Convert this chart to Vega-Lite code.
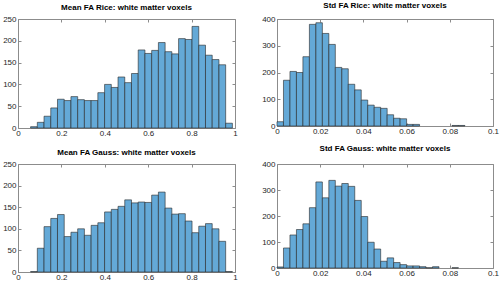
{
  "$schema": "https://vega.github.io/schema/vega-lite/v6.json",
  "padding": {"left": 2, "top": 1, "right": 0, "bottom": 0},
  "background": "white",
  "datasets": {
    "mr": [
      {"x0": 0.058, "x1": 0.089, "n": 3}, {"x0": 0.089, "x1": 0.12, "n": 13}, {"x0": 0.12, "x1": 0.151, "n": 27},
      {"x0": 0.151, "x1": 0.182, "n": 46}, {"x0": 0.182, "x1": 0.213, "n": 66}, {"x0": 0.213, "x1": 0.244, "n": 63},
      {"x0": 0.244, "x1": 0.275, "n": 72}, {"x0": 0.275, "x1": 0.306, "n": 65}, {"x0": 0.306, "x1": 0.337, "n": 63},
      {"x0": 0.337, "x1": 0.368, "n": 63}, {"x0": 0.368, "x1": 0.399, "n": 81}, {"x0": 0.399, "x1": 0.43, "n": 100},
      {"x0": 0.43, "x1": 0.461, "n": 93}, {"x0": 0.461, "x1": 0.492, "n": 117}, {"x0": 0.492, "x1": 0.523, "n": 104},
      {"x0": 0.523, "x1": 0.554, "n": 125}, {"x0": 0.554, "x1": 0.585, "n": 179}, {"x0": 0.585, "x1": 0.616, "n": 171},
      {"x0": 0.616, "x1": 0.647, "n": 178}, {"x0": 0.647, "x1": 0.678, "n": 196}, {"x0": 0.678, "x1": 0.709, "n": 175},
      {"x0": 0.709, "x1": 0.74, "n": 170}, {"x0": 0.74, "x1": 0.771, "n": 205}, {"x0": 0.771, "x1": 0.802, "n": 203},
      {"x0": 0.802, "x1": 0.833, "n": 233}, {"x0": 0.833, "x1": 0.864, "n": 190}, {"x0": 0.864, "x1": 0.895, "n": 167},
      {"x0": 0.895, "x1": 0.926, "n": 157}, {"x0": 0.926, "x1": 0.957, "n": 145}, {"x0": 0.957, "x1": 0.988, "n": 11}
    ],
    "mg": [
      {"x0": 0.058, "x1": 0.089, "n": 1}, {"x0": 0.089, "x1": 0.12, "n": 55}, {"x0": 0.12, "x1": 0.151, "n": 105},
      {"x0": 0.151, "x1": 0.182, "n": 124}, {"x0": 0.182, "x1": 0.213, "n": 133}, {"x0": 0.213, "x1": 0.244, "n": 82},
      {"x0": 0.244, "x1": 0.275, "n": 92}, {"x0": 0.275, "x1": 0.306, "n": 100}, {"x0": 0.306, "x1": 0.337, "n": 85},
      {"x0": 0.337, "x1": 0.368, "n": 108}, {"x0": 0.368, "x1": 0.399, "n": 114}, {"x0": 0.399, "x1": 0.43, "n": 139},
      {"x0": 0.43, "x1": 0.461, "n": 145}, {"x0": 0.461, "x1": 0.492, "n": 152}, {"x0": 0.492, "x1": 0.523, "n": 167},
      {"x0": 0.523, "x1": 0.554, "n": 160}, {"x0": 0.554, "x1": 0.585, "n": 162}, {"x0": 0.585, "x1": 0.616, "n": 161},
      {"x0": 0.616, "x1": 0.647, "n": 178}, {"x0": 0.647, "x1": 0.678, "n": 185}, {"x0": 0.678, "x1": 0.709, "n": 148},
      {"x0": 0.709, "x1": 0.74, "n": 134}, {"x0": 0.74, "x1": 0.771, "n": 135}, {"x0": 0.771, "x1": 0.802, "n": 118},
      {"x0": 0.802, "x1": 0.833, "n": 91}, {"x0": 0.833, "x1": 0.864, "n": 106}, {"x0": 0.864, "x1": 0.895, "n": 112},
      {"x0": 0.895, "x1": 0.926, "n": 100}, {"x0": 0.926, "x1": 0.957, "n": 71}, {"x0": 0.957, "x1": 0.988, "n": 1}
    ],
    "sr": [
      {"x0": 0.0, "x1": 0.003, "n": 16}, {"x0": 0.003, "x1": 0.006, "n": 171}, {"x0": 0.006, "x1": 0.009, "n": 204},
      {"x0": 0.009, "x1": 0.012, "n": 200}, {"x0": 0.012, "x1": 0.015, "n": 259}, {"x0": 0.015, "x1": 0.018, "n": 380},
      {"x0": 0.018, "x1": 0.021, "n": 386}, {"x0": 0.021, "x1": 0.024, "n": 346}, {"x0": 0.024, "x1": 0.027, "n": 305},
      {"x0": 0.027, "x1": 0.030, "n": 219}, {"x0": 0.030, "x1": 0.033, "n": 214}, {"x0": 0.033, "x1": 0.036, "n": 156},
      {"x0": 0.036, "x1": 0.039, "n": 135}, {"x0": 0.039, "x1": 0.042, "n": 97}, {"x0": 0.042, "x1": 0.045, "n": 78},
      {"x0": 0.045, "x1": 0.048, "n": 70}, {"x0": 0.048, "x1": 0.051, "n": 66}, {"x0": 0.051, "x1": 0.054, "n": 42},
      {"x0": 0.054, "x1": 0.057, "n": 29}, {"x0": 0.057, "x1": 0.060, "n": 27}, {"x0": 0.060, "x1": 0.063, "n": 6},
      {"x0": 0.063, "x1": 0.066, "n": 6}, {"x0": 0.081, "x1": 0.084, "n": 2}, {"x0": 0.084, "x1": 0.087, "n": 2}
    ],
    "sg": [
      {"x0": 0.0, "x1": 0.003, "n": 4}, {"x0": 0.003, "x1": 0.006, "n": 77}, {"x0": 0.006, "x1": 0.009, "n": 127},
      {"x0": 0.009, "x1": 0.012, "n": 148}, {"x0": 0.012, "x1": 0.015, "n": 170}, {"x0": 0.015, "x1": 0.018, "n": 232},
      {"x0": 0.018, "x1": 0.021, "n": 331}, {"x0": 0.021, "x1": 0.024, "n": 270}, {"x0": 0.024, "x1": 0.027, "n": 337},
      {"x0": 0.027, "x1": 0.030, "n": 315}, {"x0": 0.030, "x1": 0.033, "n": 325}, {"x0": 0.033, "x1": 0.036, "n": 314},
      {"x0": 0.036, "x1": 0.039, "n": 260}, {"x0": 0.039, "x1": 0.042, "n": 198}, {"x0": 0.042, "x1": 0.045, "n": 99},
      {"x0": 0.045, "x1": 0.048, "n": 73}, {"x0": 0.048, "x1": 0.051, "n": 26}, {"x0": 0.051, "x1": 0.054, "n": 39},
      {"x0": 0.054, "x1": 0.057, "n": 21}, {"x0": 0.057, "x1": 0.060, "n": 13}, {"x0": 0.060, "x1": 0.063, "n": 8},
      {"x0": 0.063, "x1": 0.066, "n": 8}, {"x0": 0.066, "x1": 0.069, "n": 5}, {"x0": 0.069, "x1": 0.072, "n": 1},
      {"x0": 0.072, "x1": 0.075, "n": 5}, {"x0": 0.081, "x1": 0.084, "n": 1}
    ]
  },
  "spacing": 6,
  "vconcat": [
    {
      "spacing": 23,
      "hconcat": [
        {
          "width": 217, "height": 109,
          "title": {"text": "Mean FA Rice: white matter voxels", "offset": 3},
          "data": {"name": "mr"},
          "layer": [
            {"mark": {"type": "rect", "fill": "#64a9d7", "stroke": "#262626", "strokeWidth": 0.6},
             "encoding": {
               "x": {"field": "x0", "type": "quantitative", "scale": {"domain": [0, 1], "nice": false}, "axis": {"title": null, "values": [0, 0.2, 0.4, 0.6, 0.8, 1], "format": ".2~f"}},
               "x2": {"field": "x1"},
               "y": {"field": "n", "type": "quantitative", "scale": {"domain": [0, 250], "nice": false}, "axis": {"title": null, "values": [0, 50, 100, 150, 200, 250]}},
               "y2": {"datum": 0}}},
            {"mark": {"type": "rect", "opacity": 0},
             "encoding": {
               "x": {"field": "x0", "type": "quantitative", "axis": {"title": null, "orient": "top", "labels": false, "values": [0, 0.2, 0.4, 0.6, 0.8, 1]}},
               "x2": {"field": "x1"},
               "y": {"field": "n", "type": "quantitative", "axis": {"title": null, "orient": "right", "labels": false, "values": [0, 50, 100, 150, 200, 250]}},
               "y2": {"datum": 0}}}
          ],
          "resolve": {"axis": {"x": "independent", "y": "independent"}}
        },
        {
          "width": 216, "height": 107,
          "title": {"text": "Std FA Rice: white matter voxels", "offset": 5},
          "data": {"name": "sr"},
          "layer": [
            {"mark": {"type": "rect", "fill": "#64a9d7", "stroke": "#262626", "strokeWidth": 0.6},
             "encoding": {
               "x": {"field": "x0", "type": "quantitative", "scale": {"domain": [0, 0.1], "nice": false}, "axis": {"title": null, "values": [0, 0.02, 0.04, 0.06, 0.08, 0.1], "format": ".2~f"}},
               "x2": {"field": "x1"},
               "y": {"field": "n", "type": "quantitative", "scale": {"domain": [0, 400], "nice": false}, "axis": {"title": null, "values": [0, 100, 200, 300, 400]}},
               "y2": {"datum": 0}}},
            {"mark": {"type": "rect", "opacity": 0},
             "encoding": {
               "x": {"field": "x0", "type": "quantitative", "axis": {"title": null, "orient": "top", "labels": false, "values": [0, 0.02, 0.04, 0.06, 0.08, 0.1]}},
               "x2": {"field": "x1"},
               "y": {"field": "n", "type": "quantitative", "axis": {"title": null, "orient": "right", "labels": false, "values": [0, 100, 200, 300, 400]}},
               "y2": {"datum": 0}}}
          ],
          "resolve": {"axis": {"x": "independent", "y": "independent"}}
        }
      ]
    },
    {
      "spacing": 23,
      "hconcat": [
        {
          "width": 217, "height": 108,
          "title": {"text": "Mean FA Gauss: white matter voxels", "offset": 3},
          "data": {"name": "mg"},
          "layer": [
            {"mark": {"type": "rect", "fill": "#64a9d7", "stroke": "#262626", "strokeWidth": 0.6},
             "encoding": {
               "x": {"field": "x0", "type": "quantitative", "scale": {"domain": [0, 1], "nice": false}, "axis": {"title": null, "values": [0, 0.2, 0.4, 0.6, 0.8, 1], "format": ".2~f"}},
               "x2": {"field": "x1"},
               "y": {"field": "n", "type": "quantitative", "scale": {"domain": [0, 250], "nice": false}, "axis": {"title": null, "values": [0, 50, 100, 150, 200, 250]}},
               "y2": {"datum": 0}}},
            {"mark": {"type": "rect", "opacity": 0},
             "encoding": {
               "x": {"field": "x0", "type": "quantitative", "axis": {"title": null, "orient": "top", "labels": false, "values": [0, 0.2, 0.4, 0.6, 0.8, 1]}},
               "x2": {"field": "x1"},
               "y": {"field": "n", "type": "quantitative", "axis": {"title": null, "orient": "right", "labels": false, "values": [0, 50, 100, 150, 200, 250]}},
               "y2": {"datum": 0}}}
          ],
          "resolve": {"axis": {"x": "independent", "y": "independent"}}
        },
        {
          "width": 216, "height": 104,
          "title": {"text": "Std FA Gauss: white matter voxels", "offset": 7},
          "data": {"name": "sg"},
          "layer": [
            {"mark": {"type": "rect", "fill": "#64a9d7", "stroke": "#262626", "strokeWidth": 0.6},
             "encoding": {
               "x": {"field": "x0", "type": "quantitative", "scale": {"domain": [0, 0.1], "nice": false}, "axis": {"title": null, "values": [0, 0.02, 0.04, 0.06, 0.08, 0.1], "format": ".2~f"}},
               "x2": {"field": "x1"},
               "y": {"field": "n", "type": "quantitative", "scale": {"domain": [0, 400], "nice": false}, "axis": {"title": null, "values": [0, 100, 200, 300, 400]}},
               "y2": {"datum": 0}}},
            {"mark": {"type": "rect", "opacity": 0},
             "encoding": {
               "x": {"field": "x0", "type": "quantitative", "axis": {"title": null, "orient": "top", "labels": false, "values": [0, 0.02, 0.04, 0.06, 0.08, 0.1]}},
               "x2": {"field": "x1"},
               "y": {"field": "n", "type": "quantitative", "axis": {"title": null, "orient": "right", "labels": false, "values": [0, 100, 200, 300, 400]}},
               "y2": {"datum": 0}}}
          ],
          "resolve": {"axis": {"x": "independent", "y": "independent"}}
        }
      ]
    }
  ],
  "config": {
    "view": {"stroke": "#8c8c8c", "strokeWidth": 1},
    "axis": {"labelFont": "Liberation Sans", "labelFontSize": 8, "labelColor": "#262626", "domain": false, "grid": false, "ticks": true, "tickSize": -3, "tickColor": "#8c8c8c", "labelFlush": false, "labelOverlap": false},
    "axisX": {"labelPadding": 4},
    "axisY": {"labelPadding": 5},
    "title": {"font": "Liberation Sans", "fontSize": 8, "fontWeight": "bold", "color": "#000000", "anchor": "middle"}
  }
}
